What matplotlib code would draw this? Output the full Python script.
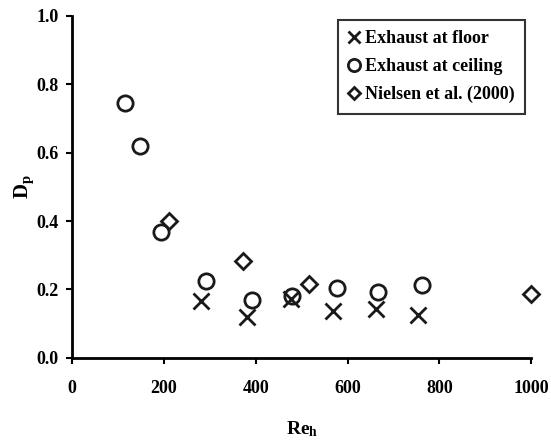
import matplotlib
matplotlib.use("Agg")
import matplotlib.pyplot as plt

# Data
floor_re = [281, 381, 476, 568, 663, 753]
floor_dp = [0.165, 0.119, 0.172, 0.137, 0.143, 0.124]
ceil_re = [114, 147, 193, 292, 392, 480, 577, 666, 762]
ceil_dp = [0.745, 0.620, 0.369, 0.225, 0.170, 0.180, 0.204, 0.192, 0.213]
niel_re = [212, 373, 517, 1000]
niel_dp = [0.400, 0.282, 0.216, 0.186]

plt.rcParams['font.family'] = ['Liberation Serif', 'DejaVu Serif']
plt.rcParams['font.weight'] = 'bold'
plt.rcParams['mathtext.fontset'] = 'custom'
plt.rcParams['mathtext.rm'] = 'Liberation Serif:bold'
plt.rcParams['mathtext.bf'] = 'Liberation Serif:bold'
plt.rcParams['mathtext.default'] = 'bf'

fig = plt.figure(figsize=(5.51, 4.44), dpi=100)
ax = fig.add_axes([0.131, 0.194, 0.833, 0.770])

ax.plot(floor_re, floor_dp, 'x', ms=11, mew=2, color='#1a1a1a', label='Exhaust at floor', clip_on=False)
ax.plot(ceil_re, ceil_dp, 'o', ms=11, mew=2, mfc='none', color='#1a1a1a', label='Exhaust at ceiling', clip_on=False)
ax.plot(niel_re, niel_dp, 'D', ms=8, mew=2, mfc='none', color='#1a1a1a', label='Nielsen et al. (2000)', clip_on=False)

ax.set_xlim(0, 1000)
ax.set_ylim(0, 1.0)
ax.set_xticks([0, 200, 400, 600, 800, 1000])
ax.set_yticks([0.0, 0.2, 0.4, 0.6, 0.8, 1.0])
ax.set_yticklabels(['0.0', '0.2', '0.4', '0.6', '0.8', '1.0'])
ax.tick_params(labelsize=13, width=1.5, length=4, direction='out')
ax.tick_params(axis='x', pad=12)
ax.tick_params(axis='y', pad=6)
for s in ['top', 'right']:
    ax.spines[s].set_visible(False)
for s in ['left', 'bottom']:
    ax.spines[s].set_linewidth(2)

ax.set_xlabel(r'Re$_\mathbf{h}$', fontsize=14, fontweight='bold', labelpad=16)
ax.set_ylabel(r'D$_\mathbf{p}$', fontsize=15, fontweight='bold', labelpad=0)

leg = ax.legend(loc='upper right', bbox_to_anchor=(0.995, 1.0), fontsize=13, frameon=True,
                fancybox=False, edgecolor='black', handlelength=0.6, handletextpad=0.3,
                labelspacing=0.6, borderpad=0.6, markerscale=0.8, borderaxespad=0.2)
leg.get_frame().set_linewidth(1.5)

fig.savefig('out.png', dpi=100, facecolor='w')
